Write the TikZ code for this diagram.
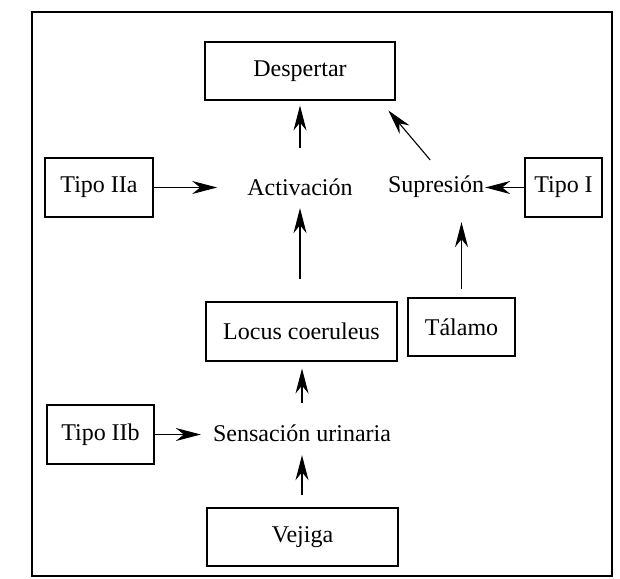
\documentclass[tikz,border=0pt]{standalone}
\usepackage{fontspec}
\setmainfont{Liberation Serif}
\usetikzlibrary{arrows.meta}
\begin{document}
\begin{tikzpicture}[x=1pt,y=-1pt,
  every node/.style={font=\fontsize{24}{28}\selectfont},
  box/.style={draw,line width=1.1pt,inner sep=0pt,anchor=center},
  label/.style={inner sep=0pt,minimum height=40pt,anchor=center},
  arr/.style={line width=1.1pt,-{Stealth[length=25pt,width=13pt,inset=8pt]}}]
\useasboundingbox (0,0) rectangle (620,578);
% outer frame
\draw[line width=2pt] (32,12) rectangle (612,576);

% boxes
\node[box,minimum width=190pt,minimum height=58pt] (desp) at (300,71) {Despertar};
\node[box,minimum width=108pt,minimum height=59pt] (iia)  at (99,187.5) {Tipo IIa};
\node[box,minimum width=77pt,minimum height=59pt]  (ti)   at (563.5,187.5) {Tipo I};
\node[box,minimum width=191pt,minimum height=59pt] (loc)  at (301.5,331.5) {Locus coeruleus};
\node[box,minimum width=107pt,minimum height=58pt] (tal)  at (461.5,327) {Tálamo};
\node[box,minimum width=107pt,minimum height=59pt] (iib)  at (100.5,434.5) {Tipo IIb};
\node[box,minimum width=191pt,minimum height=58pt] (vej)  at (302.5,537) {Vejiga};

% free-standing labels
\node[label] (act)  at (300,187) {Activación};
\node[label] (sup)  at (436,187) {Supresión};
\node[label] (sens) at (302,433) {Sensación urinaria};

% connectors
\draw[arr,shorten <=19pt,shorten >=5pt] (act.north) -- (act.north |- desp.south);
\draw[arr,shorten <=9pt,shorten >=13pt] (sup.north) -- ([xshift=80pt]desp.south);
\draw[arr,shorten >=30pt] (iia.east) -- (act.west |- iia.east);
\draw[arr,shorten >=1pt] (ti.west) -- (sup.east |- ti.west);
\draw[arr,shorten <=22pt,shorten >=1pt] (loc.north -| act.south) -- (act.south);
\draw[arr,shorten <=8pt,shorten >=15pt] (tal.north) -- (tal.north |- sup.south);
\draw[arr,shorten <=10pt,shorten >=7pt] (sens.north) -- (sens.north |- loc.south);
\draw[arr,shorten >=12pt] (iib.east) -- (sens.west |- iib.east);
\draw[arr,shorten <=12pt,shorten >=2pt] (vej.north -| sens.south) -- (sens.south);
\end{tikzpicture}
\end{document}
